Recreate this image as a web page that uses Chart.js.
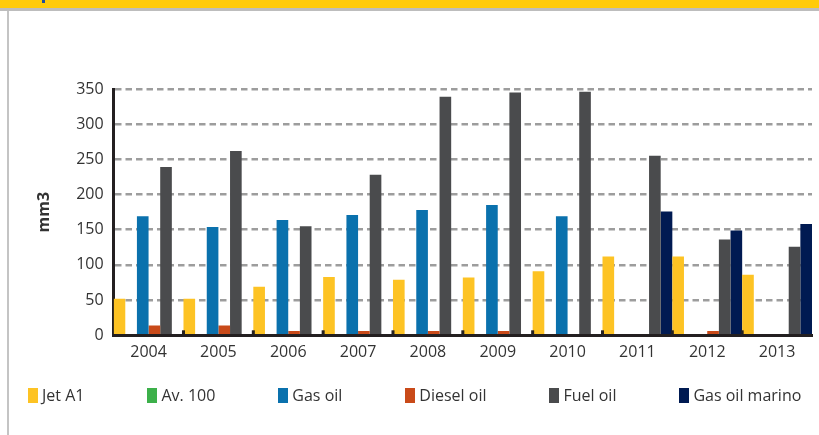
<!DOCTYPE html>
<html>
<head>
<meta charset="utf-8">
<script src="https://cdn.jsdelivr.net/npm/chart.js@4/dist/chart.umd.min.js"></script>
<style>
  html, body { margin: 0; padding: 0; background: #fff; }
  body { width: 819px; height: 435px; position: relative; overflow: hidden; font-family: "Open Sans", sans-serif; }
  .band { position: absolute; left: 0; top: 0; width: 819px; height: 8px; background: #ffcb0a; }
  .band-line { position: absolute; left: 0; top: 8px; width: 819px; height: 3px; background: #bdbdbd; }
  .band-mark { position: absolute; left: 42px; top: 0; width: 3px; height: 3px; background: #1f4e9c; }
  .side { position: absolute; left: 7px; top: 11px; width: 2px; height: 424px; background: #c4c4c4; }
  .chart-box { position: absolute; left: 9px; top: 11px; width: 810px; height: 424px; }
  #legend { position: absolute; left: 28px; top: 384px; display: flex; gap: 63px; font-size: 16px; color: #333; }
  #legend .item { display: flex; align-items: center; white-space: nowrap; }
  #legend .box { width: 10px; height: 15px; margin-right: 4px; }
</style>
</head>
<body>
<div class="band"></div>
<div class="band-line"></div>
<div class="band-mark"></div>
<div class="side"></div>
<div class="chart-box"><canvas id="fuelChart"></canvas></div>
<div id="legend"></div>

<script>
// Datos del gráfico
const years = ['2004', '2005', '2006', '2007', '2008', '2009', '2010', '2011', '2012', '2013'];
const jetA1 = [52, 52, 69, 83, 79, 82, 91, 112, 112, 86];
const av100 = [0, 0, 0, 0, 0, 0, 0, 0, 0, 0];
const gasOil = [169, 154, 164, 171, 178, 185, 169, 0, 0, 0];
const dieselOil = [14, 14, 6, 6, 6, 6, 0, 0, 6, 0];
const fuelOil = [239, 262, 155, 228, 339, 345, 346, 255, 136, 126];
const gasOilMarino = [0, 0, 0, 0, 0, 0, 0, 176, 149, 158];
const yTicks = [0, 50, 100, 150, 200, 250, 300, 350];

const textColor = '#333333';
const axisColor = '#231f20';

// Marcas cortas entre categorías, hacia arriba desde el eje X
const categoryTicks = {
    id: 'categoryTicks',
    afterDatasetsDraw(chart) {
        const x = chart.scales.x;
        const y0 = chart.chartArea.bottom;
        const c = chart.ctx;
        c.save();
        c.fillStyle = axisColor;
        for (let i = 1; i < years.length; i++) {
            const px = (x.getPixelForValue(i - 1) + x.getPixelForValue(i)) / 2;
            c.fillRect(px - 1.5, y0 - 5, 3, 5);
        }
        c.restore();
    }
};

document.addEventListener('DOMContentLoaded', () => {
    const chart = initializeChart();
    buildLegend(chart);
});

function initializeChart() {
    const ctx = document.getElementById('fuelChart').getContext('2d');
    Chart.defaults.font.family = '"Open Sans", sans-serif';
    Chart.defaults.font.size = 16;
    Chart.defaults.color = textColor;

    return new Chart(ctx, {
        type: 'bar',
        data: {
            labels: years,
            datasets: [
                { label: 'Jet A1', data: jetA1, backgroundColor: '#fdc324' },
                { label: 'Av. 100', data: av100, backgroundColor: '#3cb04a' },
                { label: 'Gas oil', data: gasOil, backgroundColor: '#0a71ad' },
                { label: 'Diesel oil', data: dieselOil, backgroundColor: '#c94a19' },
                { label: 'Fuel oil', data: fuelOil, backgroundColor: '#4a4b4d' },
                { label: 'Gas oil marino', data: gasOilMarino, backgroundColor: '#001a52' }
            ]
        },
        options: {
            responsive: true,
            maintainAspectRatio: false,
            animation: false,
            datasets: {
                bar: { barPercentage: 1, categoryPercentage: 1, inflateAmount: 0 }
            },
            layout: {
                padding: { left: 0, top: 78, right: 7, bottom: 72.5 }
            },
            plugins: {
                legend: { display: false },
                tooltip: { enabled: false }
            },
            scales: {
                x: {
                    grid: { display: false },
                    border: { color: axisColor, width: 3 },
                    ticks: { padding: 0, color: textColor }
                },
                y: {
                    min: 0,
                    max: 350,
                    afterBuildTicks: (scale) => {
                        scale.ticks = yTicks.map(v => ({ value: v }));
                    },
                    grid: {
                        color: '#9d9d9d',
                        lineWidth: 2.5,
                        drawTicks: false
                    },
                    border: { color: axisColor, width: 3, dash: [6.5, 4] },
                    ticks: { padding: 10, color: textColor },
                    title: {
                        display: true,
                        text: 'mm3',
                        color: textColor,
                        font: { weight: 'bold', size: 16 },
                        padding: { top: 26, bottom: 12 }
                    }
                }
            }
        },
        plugins: [categoryTicks]
    });
}

// Leyenda HTML a partir de las etiquetas del propio Chart.js
function buildLegend(chart) {
    const legend = document.getElementById('legend');
    const items = Chart.defaults.plugins.legend.labels.generateLabels(chart);
    items.forEach(item => {
        const el = document.createElement('div');
        el.className = 'item';
        const box = document.createElement('span');
        box.className = 'box';
        box.style.background = item.fillStyle;
        const txt = document.createElement('span');
        txt.textContent = item.text;
        el.appendChild(box);
        el.appendChild(txt);
        legend.appendChild(el);
    });
}
</script>
</body>
</html>
